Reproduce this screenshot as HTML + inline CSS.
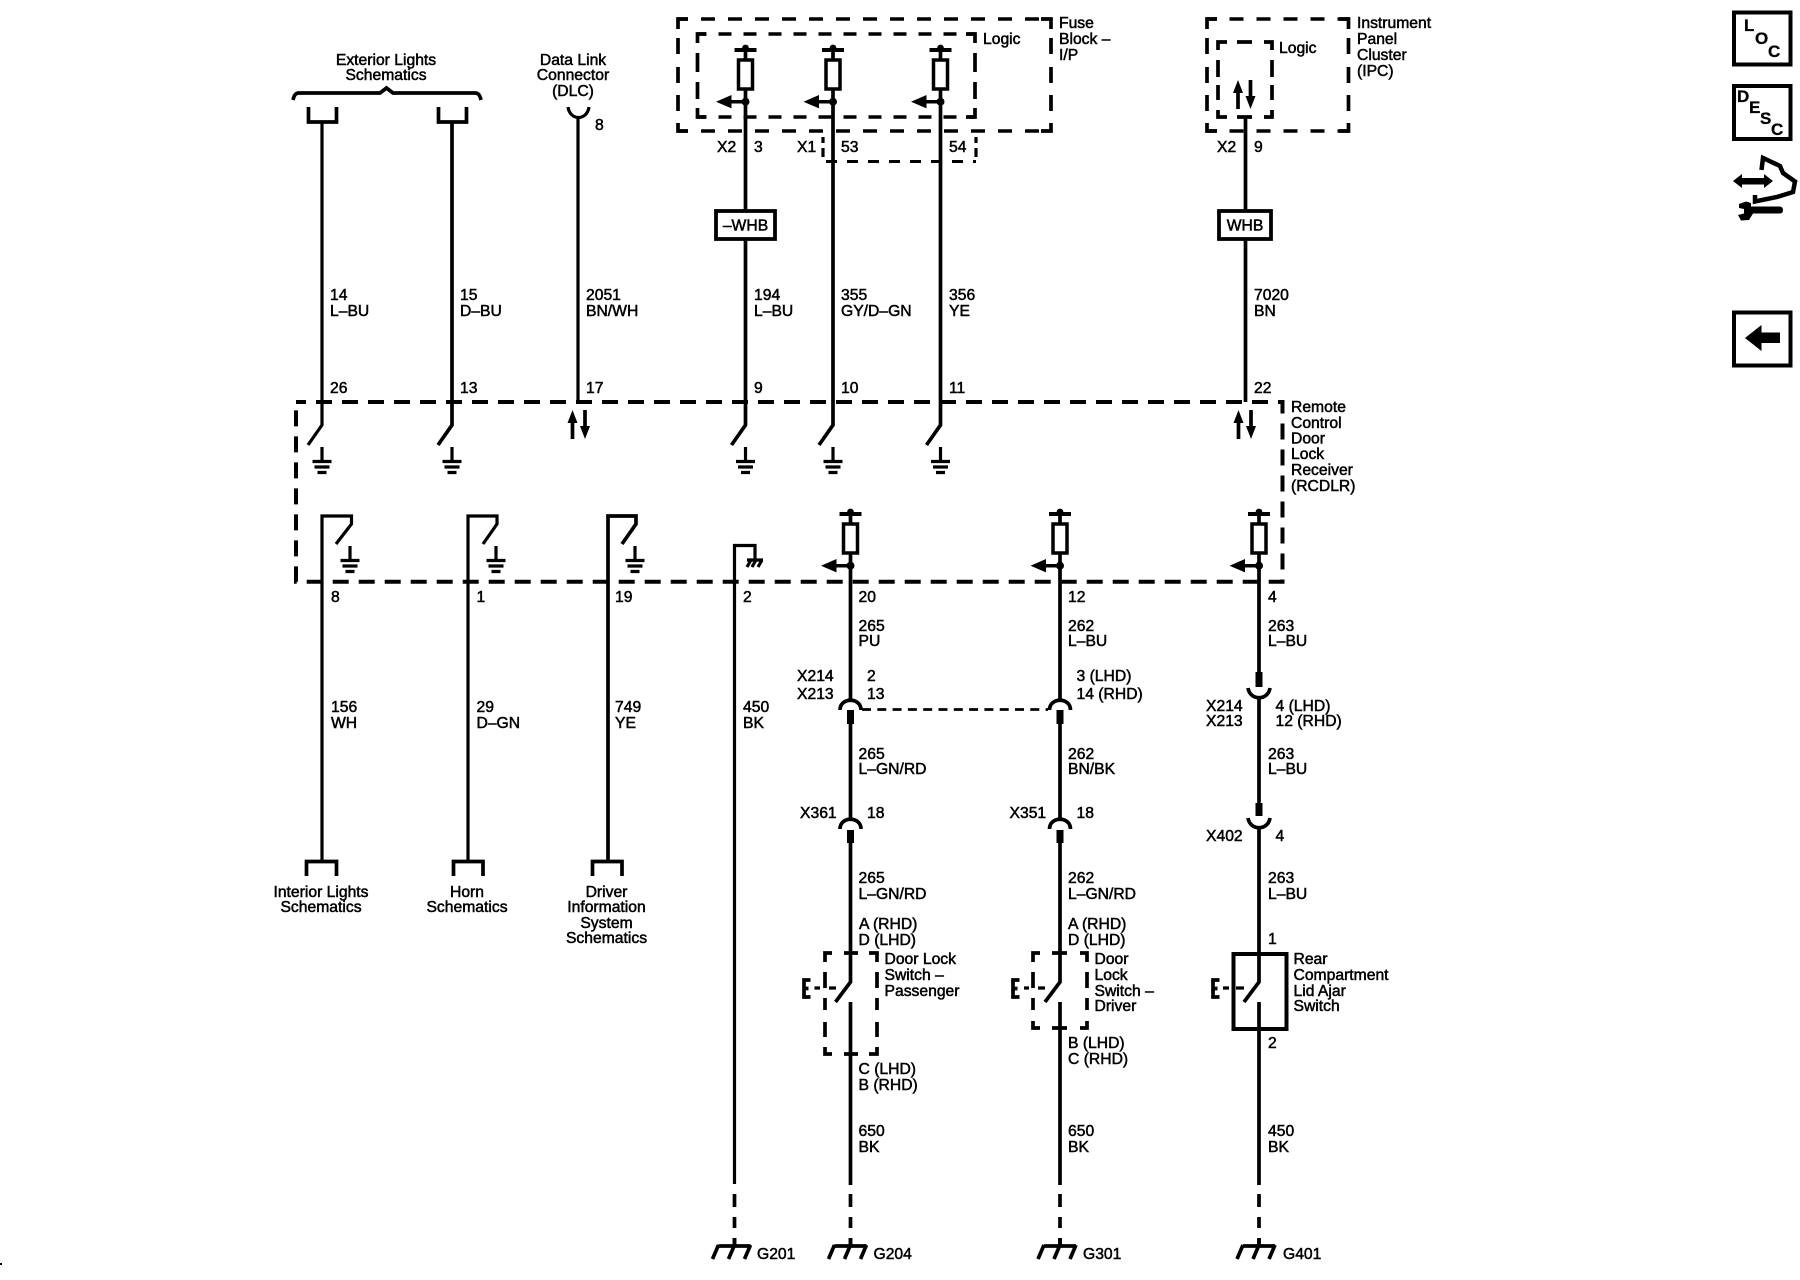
<!DOCTYPE html>
<html lang="en"><head><meta charset="utf-8"><title>Remote Control Door Lock Schematic</title>
<style>
html,body{margin:0;padding:0;background:#fff;width:1800px;height:1280px;overflow:hidden}
svg{display:block}
text{font-family:"Liberation Sans",sans-serif;font-size:15.7px;fill:#000;stroke:#000;stroke-width:.5px}
.c{text-anchor:middle}
.b{font-weight:bold;font-size:17px;stroke-width:.3px}
.l{fill:none;stroke:#000;stroke-width:3.7}
.t{fill:none;stroke:#000;stroke-width:3.2}
.d{fill:none;stroke:#000;stroke-width:4;stroke-dasharray:16 10}
.o{fill:none;stroke:#000;stroke-width:3.6;stroke-dasharray:14 13}
.i{fill:none;stroke:#000;stroke-width:3.6;stroke-dasharray:13 12}
</style></head><body>
<svg xmlns="http://www.w3.org/2000/svg" width="1800" height="1280" viewBox="0 0 1800 1280">
<defs>
<g id="fuse">
<path d="M-11 -2H11V2H-11Z"/><circle cx="0" cy="-2" r="3.4"/>
<path class="l" d="M0 -2V52"/>
<rect x="-7" y="10" width="14" height="29" fill="#fff" stroke="#000" stroke-width="3.500"/>
<circle cx="0" cy="51.700" r="4"/>
<path d="M0 50H-15V53.500H0Z"/><path d="M-29.500 51.700L-14 45V58.400Z"/>
</g>
<g id="gnd">
<path class="t" d="M0 0V13"/>
<path class="t" d="M-9.500 14.500H9.500M-7.500 20H7.500M-4.500 25.500H4.500"/>
</g>
<g id="earth">
<path class="l" d="M0 0V8M-16 8H16"/>
<path class="l" d="M-16 7L-22 21M0 7L-6 21M16 7L10 21"/>
</g>
<g id="arrows">
<path class="l" d="M0 10V29M12.500 0V19"/>
<path d="M0 0L5 13H-5ZM12.500 29L17.500 16H7.500Z"/>
</g>
<g id="fem"><path class="l" d="M-10.500 10C-10.500 -3 10.500 -3 10.500 10"/></g>
<g id="mal"><path class="l" d="M-11 0C-9 13 9 13 11 0"/></g>
<g id="e"><path class="l" d="M8.500 1H2V18H8.500M2 9.500H6.500" stroke-width="4"/></g>
</defs>

<!-- Top modules -->
<path class="o" stroke-dashoffset="4" d="M678 19H1051"/>
<path class="o" stroke-dashoffset="4" d="M678 131H1051"/>
<path class="l" d="M678 29V19H688M1041 19H1051V29M678 123V131H688M1041 131H1051V123M678 38V54M678 67V83M678 95V111M1051 38V54M1051 67V83M1051 95V111"/>
<path class="i" stroke-dashoffset="4" d="M697.500 34H975"/>
<path class="i" stroke-dashoffset="4" d="M697.500 117H975"/>
<path class="l" d="M697.500 43V34H706M966 34H975V43M697.500 108V117H706M966 117H975V108M697.500 53V72M697.500 82V99M975 53V72M975 82V99"/>
<path fill="none" stroke="#000" stroke-width="3" stroke-dasharray="11 10" d="M826 161.500H976"/>
<path class="t" d="M823 137V143M823 148V157M976 137V143M976 148V157"/>
<path class="o" stroke-dashoffset="4" d="M1206.500 19H1348.500"/>
<path class="o" stroke-dashoffset="4" d="M1206.500 131H1348.500"/>
<path class="l" d="M1207 29V19H1217M1339 19H1348.500V29M1207 123V131H1217M1339 131H1348.500V123M1207 38V54M1207 67V83M1207 95V111M1348.500 38V54M1348.500 67V83M1348.500 95V111"/>
<path class="l" d="M1218 50V42H1227M1237 42H1252M1264 42H1272V50M1218 60V77M1218 85V100M1218 110V117H1227M1272 60V77M1272 85V100M1272 110V117H1264M1237 117H1252"/>

<!-- Remote box -->
<rect class="d" x="296" y="402" width="986.500" height="179.700" stroke-dashoffset="6"/>

<!-- Exterior brace -->
<path class="l" d="M293 100C294 96 295 93 299 93H380L386.500 88L393 93H475C479 93 480 96 481 100"/>
<path class="l" d="M308.500 107V122H336.500V107M438.500 107V122H466.500V107"/>
<path class="t" d="M568 107C570 121 587 121 589 107"/>

<!-- Top wires -->
<path class="t" d="M322 122V425L308 445"/>
<path class="l" d="M452 122V425L438 445"/>
<path class="t" d="M578 117V402"/>
<path class="l" d="M745.500 100V425L731.500 445"/>
<path class="l" d="M833 100V425L819 445"/>
<path class="l" d="M940.500 100V425L926.500 445"/>
<path class="l" d="M1245.500 117V402"/>
<use href="#fuse" x="745.500" y="50"/><use href="#fuse" x="833" y="50"/><use href="#fuse" x="940.500" y="50"/>
<rect x="716" y="211" width="59" height="28" fill="#fff" stroke="#000" stroke-width="3.800"/>
<rect x="1219" y="211" width="52" height="28" fill="#fff" stroke="#000" stroke-width="3.800"/>
<use href="#arrows" x="1238" y="80"/>
<use href="#arrows" x="572.500" y="410"/>
<use href="#arrows" x="1238.500" y="410"/>
<use href="#gnd" x="322" y="447"/><use href="#gnd" x="452" y="447"/><use href="#gnd" x="745.500" y="447"/><use href="#gnd" x="833" y="447"/><use href="#gnd" x="940.500" y="447"/>

<!-- Lower left wires -->
<path class="t" d="M322 861V516H351.500V524L336 544"/>
<path class="t" d="M468 861V516H497V524L483 544"/>
<path class="l" d="M608 861V516H636V524L622 544"/>
<path class="l" d="M306.500 876V861.500H336.500V876M453.500 876V861.500H483V876M592.500 876V861.500H622V876"/>
<use href="#gnd" x="350" y="546"/><use href="#gnd" x="496" y="546"/><use href="#gnd" x="635" y="546"/>
<path class="t" d="M734.500 1184V545.500H755V560"/>
<path class="t" d="M747 560H763M751 560L747 567M756 560L752 567M762 560L758 567"/>

<!-- Lower right wires -->
<use href="#fuse" x="850.500" y="514"/><use href="#fuse" x="1060" y="514"/><use href="#fuse" x="1259" y="514"/>
<path class="l" d="M850.500 566V699M850.500 724V819M850.500 843V982L835.500 1002M850.500 1002V1185"/>
<path class="l" d="M1060 566V699M1060 724V819M1060 843V982L1045 1002M1060 1002V1185"/>
<path class="l" d="M1259 566V680M1259 696V806M1259 826V982L1244 1002M1259 1002V1185"/>
<path d="M847 710H854V724H847ZM847 830H854V843H847ZM1056.500 710H1063.500V724H1056.500ZM1056.500 830H1063.500V843H1056.500ZM1255.500 672H1262.500V687H1255.500ZM1255.500 803H1262.500V816H1255.500Z"/>
<use href="#fem" x="850.500" y="700"/><use href="#fem" x="1060" y="700"/>
<use href="#fem" x="850.500" y="819"/><use href="#fem" x="1060" y="819"/>
<use href="#mal" x="1259" y="688"/><use href="#mal" x="1259" y="818"/>
<path fill="none" stroke="#000" stroke-width="2.800" stroke-dasharray="9 6.300" d="M862 709.500H1048"/>

<!-- Ground dashes -->
<path class="l" d="M734.500 1194V1207M734.500 1217V1228M734.500 1238V1246M850.500 1194V1207M850.500 1217V1228M850.500 1238V1246M1060 1194V1207M1060 1217V1228M1060 1238V1246M1259 1194V1207M1259 1217V1228M1259 1238V1246"/>
<use href="#earth" x="734.500" y="1238"/><use href="#earth" x="850.500" y="1238"/><use href="#earth" x="1060" y="1238"/><use href="#earth" x="1259" y="1238"/>

<!-- Switch boxes -->
<path class="l" d="M825 962V953H832M844 953H858M869 953H877V962M825 972V988M825 998V1010M825 1022V1037M825 1047V1054H832M844 1054H858M869 1054H877V1047M877 1037V1022M877 1010V998M877 988V972"/>
<path class="l" d="M1033 962V953H1040M1052 953H1067M1080 953H1087V962M1033 972V988M1033 998V1010M1033 1021V1028H1040M1052 1028H1067M1080 1028H1087V1021M1087 1010V998M1087 988V972"/>
<rect x="1233.500" y="954" width="53" height="75" fill="none" stroke="#000" stroke-width="4"/>
<use href="#e" x="802" y="979"/><use href="#e" x="1011" y="979"/><use href="#e" x="1211" y="979"/>
<path class="t" d="M814.500 988H820M829 988H836"/>
<path class="t" d="M1024 988H1029M1038 988H1045"/>
<path class="t" d="M1223 988H1229M1236 988H1244"/>

<!-- Text top -->
<text class="c" x="386" y="65">Exterior Lights</text><text class="c" x="386" y="80">Schematics</text>
<text class="c" x="573" y="65">Data Link</text><text class="c" x="573" y="80">Connector</text><text class="c" x="573" y="96">(DLC)</text>
<text x="595" y="130">8</text>
<text x="983" y="44">Logic</text>
<text x="1059" y="28">Fuse</text><text x="1059" y="44">Block –</text><text x="1059" y="60">I/P</text>
<text x="1279" y="53">Logic</text>
<text x="1357" y="28">Instrument</text><text x="1357" y="44">Panel</text><text x="1357" y="60">Cluster</text><text x="1357" y="76">(IPC)</text>
<text x="717" y="152">X2</text><text x="754" y="152">3</text><text x="797" y="152">X1</text><text x="841" y="152">53</text><text x="949" y="152">54</text>
<text x="1217" y="152">X2</text><text x="1254" y="152">9</text>
<text class="c" x="745.500" y="230.500">–WHB</text><text class="c" x="1245" y="230.500">WHB</text>
<text x="330" y="300">14</text><text x="330" y="316">L–BU</text>
<text x="460" y="300">15</text><text x="460" y="316">D–BU</text>
<text x="586" y="300">2051</text><text x="586" y="316">BN/WH</text>
<text x="754" y="300">194</text><text x="754" y="316">L–BU</text>
<text x="841" y="300">355</text><text x="841" y="316">GY/D–GN</text>
<text x="949" y="300">356</text><text x="949" y="316">YE</text>
<text x="1254" y="300">7020</text><text x="1254" y="316">BN</text>
<text x="330" y="393">26</text><text x="460" y="393">13</text><text x="586" y="393">17</text><text x="754" y="393">9</text><text x="841" y="393">10</text><text x="949" y="393">11</text><text x="1254" y="393">22</text>
<text x="1291" y="412">Remote</text><text x="1291" y="428">Control</text><text x="1291" y="443.500">Door</text><text x="1291" y="459">Lock</text><text x="1291" y="475">Receiver</text><text x="1291" y="491">(RCDLR)</text>

<!-- Text bottom -->
<text x="331" y="602">8</text><text x="476.500" y="602">1</text><text x="615" y="602">19</text><text x="743" y="602">2</text><text x="858.500" y="602">20</text><text x="1068" y="602">12</text><text x="1268" y="602">4</text>
<text x="331" y="712">156</text><text x="331" y="728">WH</text>
<text x="476.500" y="712">29</text><text x="476.500" y="728">D–GN</text>
<text x="615" y="712">749</text><text x="615" y="728">YE</text>
<text x="743" y="712">450</text><text x="743" y="728">BK</text>
<text x="858.500" y="631">265</text><text x="858.500" y="646">PU</text>
<text x="1068" y="631">262</text><text x="1068" y="646">L–BU</text>
<text x="1268" y="631">263</text><text x="1268" y="646">L–BU</text>
<text x="797" y="681">X214</text><text x="797" y="699">X213</text><text x="867" y="681">2</text><text x="867" y="699">13</text>
<text x="1076.500" y="681">3 (LHD)</text><text x="1076.500" y="699">14 (RHD)</text>
<text x="1206" y="711">X214</text><text x="1206" y="726">X213</text><text x="1275.500" y="711">4 (LHD)</text><text x="1275.500" y="726">12 (RHD)</text>
<text x="858.500" y="759">265</text><text x="858.500" y="774">L–GN/RD</text>
<text x="1068" y="759">262</text><text x="1068" y="774">BN/BK</text>
<text x="1268" y="759">263</text><text x="1268" y="774">L–BU</text>
<text x="800" y="818">X361</text><text x="867" y="818">18</text>
<text x="1009.500" y="818">X351</text><text x="1076.500" y="818">18</text>
<text x="1206" y="841">X402</text><text x="1275.500" y="841">4</text>
<text x="858.500" y="883">265</text><text x="858.500" y="899">L–GN/RD</text>
<text x="1068" y="883">262</text><text x="1068" y="899">L–GN/RD</text>
<text x="1268" y="883">263</text><text x="1268" y="899">L–BU</text>
<text x="859" y="929">A (RHD)</text><text x="858.500" y="945">D (LHD)</text>
<text x="1068" y="929">A (RHD)</text><text x="1068" y="945">D (LHD)</text>
<text x="1268" y="944">1</text>
<text x="884.500" y="964">Door Lock</text><text x="884.500" y="980">Switch –</text><text x="884.500" y="996">Passenger</text>
<text x="1094.500" y="964">Door</text><text x="1094.500" y="980">Lock</text><text x="1094.500" y="996">Switch –</text><text x="1094.500" y="1011">Driver</text>
<text x="1293.500" y="964">Rear</text><text x="1293.500" y="980">Compartment</text><text x="1293.500" y="996">Lid Ajar</text><text x="1293.500" y="1011">Switch</text>
<text x="1068" y="1048">B (LHD)</text><text x="1068" y="1064">C (RHD)</text>
<text x="1268" y="1048">2</text>
<text x="858.500" y="1074">C (LHD)</text><text x="858.500" y="1090">B (RHD)</text>
<text x="858.500" y="1136">650</text><text x="858.500" y="1152">BK</text>
<text x="1068" y="1136">650</text><text x="1068" y="1152">BK</text>
<text x="1268" y="1136">450</text><text x="1268" y="1152">BK</text>
<text class="c" x="321" y="897">Interior Lights</text><text class="c" x="321" y="912">Schematics</text>
<text class="c" x="467" y="897">Horn</text><text class="c" x="467" y="912">Schematics</text>
<text class="c" x="606.500" y="897">Driver</text><text class="c" x="606.500" y="912">Information</text><text class="c" x="606.500" y="928">System</text><text class="c" x="606.500" y="943">Schematics</text>
<text x="757" y="1259">G201</text><text x="873.500" y="1259">G204</text><text x="1083" y="1259">G301</text><text x="1283" y="1259">G401</text>

<!-- Right icons -->
<rect x="1734" y="12.500" width="56.500" height="52" fill="none" stroke="#000" stroke-width="4"/>
<text class="b" x="1744" y="31">L</text><text class="b" x="1755" y="44">O</text><text class="b" x="1768" y="57">C</text>
<rect x="1734" y="86" width="56.500" height="53" fill="none" stroke="#000" stroke-width="4"/>
<text class="b" x="1737" y="102">D</text><text class="b" x="1749" y="113">E</text><text class="b" x="1760" y="124">S</text><text class="b" x="1771" y="135">C</text>
<path fill="none" stroke="#000" stroke-width="4.500" d="M1761.500 170L1763 158L1780 166L1783 173L1795 181.500L1793 192L1777 197L1755 201.500L1755 195"/>
<path d="M1733 181L1742 174V178H1764V174L1773 181L1764 188V184.500H1742V188Z"/>
<path d="M1739 204L1746 201.500L1751 203V206.500H1780Q1783 207 1783 210Q1783 213.500 1780 213.500H1753L1749 220L1741 220.500L1738 215L1744 213.500V209L1739 208Z"/>
<rect x="1734" y="312.500" width="56.500" height="53" fill="none" stroke="#000" stroke-width="4"/>
<path d="M1745 338L1761.500 325V332.500H1780V343H1761.500V351Z"/>
<rect x="0" y="1263" width="2" height="2"/>
</svg>
</body></html>
